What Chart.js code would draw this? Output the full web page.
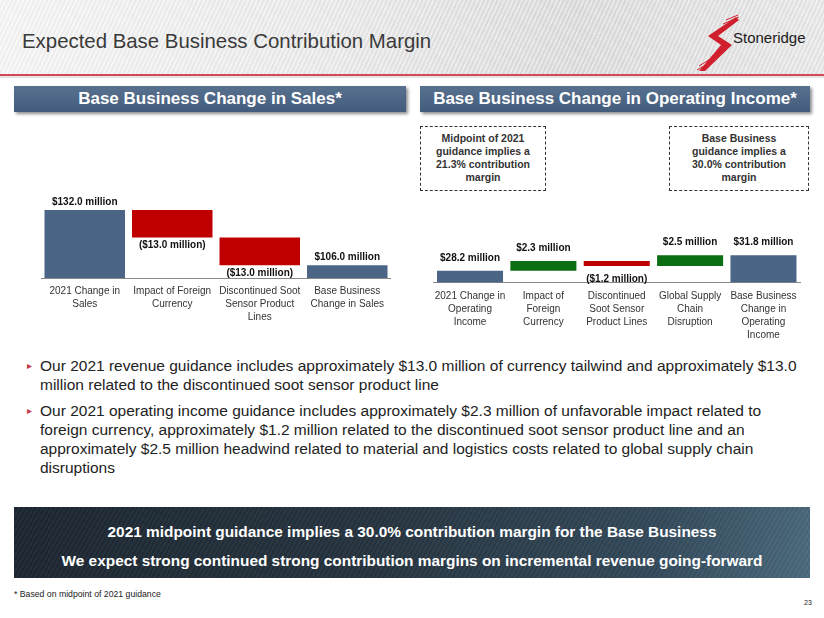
<!DOCTYPE html>
<html>
<head>
<meta charset="utf-8">
<script src="https://cdn.jsdelivr.net/npm/chart.js@4.4.1/dist/chart.umd.min.js"></script>
<style>
  body { margin: 0; width: 824px; height: 618px; position: relative; overflow: hidden; background: #fff;
         font-family: "Liberation Sans", Arial, sans-serif; color: #222; }
  .abs { position: absolute; }
  #header { left: 0; top: 0; width: 824px; height: 74px;
            background: repeating-linear-gradient(115deg, rgba(255,255,255,0.35) 0 2px, rgba(0,0,0,0.02) 2px 4px),
                        linear-gradient(90deg, #f4f4f4 0%, #e9e9e9 40%, #dadada 70%, #e6e6e6 100%); }
  #redline { left: 0; top: 74px; width: 824px; height: 2px; background: #cf4a5b; }
  #greyline { left: 0; top: 76px; width: 824px; height: 2px; background: #e4e4e4; }
  #title { left: 22px; top: 30px; font-size: 20.4px; color: #3a3a3a; white-space: nowrap; }
  #logoText { left: 733px; top: 29px; font-family: "Liberation Sans Narrow", "Liberation Sans", Arial, sans-serif;
              font-size: 15px; color: #1a1a1a; }
  .sect { height: 26px; line-height: 26px; text-align: center; color: #fff; font-weight: bold; font-size: 17px;
          background: linear-gradient(#57718f, #435c7c); box-shadow: 2px 2px 3px rgba(0,0,0,0.45); white-space: nowrap; }
  .note { border: 1px dashed #333; text-align: center; font-weight: bold; font-size: 10.5px; line-height: 13px;
          color: #333; box-sizing: border-box; padding-top: 5px; }
  .chartBox { position: absolute; }
  #bullets { left: 28px; top: 356px; width: 790px; font-size: 15.5px; line-height: 19px; color: #222; }
  #bullets p { margin: 0 0 7px 0; padding-left: 12px; position: relative; white-space: nowrap; }
  #bullets p::before { content: "\25B8"; color: #c8384a; font-size: 10px; position: absolute; left: -1px; top: 0; }
  #banner { left: 14px; top: 507px; width: 796px; height: 71px;
            background: repeating-linear-gradient(120deg, rgba(255,255,255,0.03) 0 2px, rgba(0,0,0,0.03) 2px 4px),
                        linear-gradient(100deg, #1c2631 0%, #26343f 45%, #33495a 80%, #4a6a7c 100%);
            color: #fff; font-weight: bold; font-size: 15.4px; text-align: center; }
  #banner div { position: absolute; left: 0; width: 100%; white-space: nowrap; }
  #foot { left: 14px; top: 589px; font-size: 8.7px; color: #222; }
  #page { left: 804px; top: 599px; font-size: 7px; color: #222; }
</style>
</head>
<body>
<div id="header" class="abs"></div>
<div id="redline" class="abs"></div>
<div id="greyline" class="abs"></div>
<div id="title" class="abs">Expected Base Business Contribution Margin</div>
<svg class="abs" style="left:696px;top:14px" width="44" height="60" viewBox="0 0 44 60">
  <polygon points="40,3 12,22 25,31 3,57 9,57 36,31 22,22 43,6" fill="#d0202e"/>
  <line x1="30" y1="6" x2="42" y2="1" stroke="#d0202e" stroke-width="1"/>
  <line x1="27" y1="10" x2="43" y2="3" stroke="#d0202e" stroke-width="1"/>
  <line x1="3" y1="52" x2="16" y2="44" stroke="#d0202e" stroke-width="1"/>
  <line x1="1" y1="56" x2="13" y2="49" stroke="#d0202e" stroke-width="1"/>
</svg>
<div id="logoText" class="abs">Stoneridge</div>

<div class="abs sect" style="left:14px;top:86px;width:392px;">Base Business Change in Sales*</div>
<div class="abs sect" style="left:420px;top:86px;width:390px;">Base Business Change in Operating Income*</div>

<div class="abs note" style="left:420px;top:126px;width:126px;height:65px;">Midpoint of 2021<br>guidance implies a<br>21.3% contribution<br>margin</div>
<div class="abs note" style="left:669px;top:126px;width:140px;height:65px;">Base Business<br>guidance implies a<br>30.0% contribution<br>margin</div>

<div class="chartBox" style="left:41px;top:195px;width:350px;height:136px;"><canvas id="salesChart"></canvas></div>
<div class="chartBox" style="left:428px;top:220px;width:375px;height:125px;"><canvas id="opIncChart"></canvas></div>

<div id="bullets" class="abs">
  <p>Our 2021 revenue guidance includes approximately $13.0 million of currency tailwind and approximately $13.0<br>million related to the discontinued soot sensor product line</p>
  <p>Our 2021 operating income guidance includes approximately $2.3 million of unfavorable impact related to<br>foreign currency, approximately $1.2 million related to the discontinued soot sensor product line and an<br>approximately $2.5 million headwind related to material and logistics costs related to global supply chain<br>disruptions</p>
</div>

<div id="banner" class="abs">
  <div style="top:16px;">2021 midpoint guidance implies a 30.0% contribution margin for the Base Business</div>
  <div style="top:45px;">We expect strong continued strong contribution margins on incremental revenue going-forward</div>
</div>
<div id="foot" class="abs">* Based on midpoint of 2021 guidance</div>
<div id="page" class="abs">23</div>

<script>
// Sales waterfall
const salesLabels = [
  ['2021 Change in', 'Sales'],
  ['Impact of Foreign', 'Currency'],
  ['Discontinued Soot', 'Sensor Product', 'Lines'],
  ['Base Business', 'Change in Sales']
];
const salesValues = [132.0, -13.0, -13.0, 106.0];
const salesKinds = ['total', 'delta', 'delta', 'total'];

// Operating income waterfall
const opIncLabels = [
  ['2021 Change in', 'Operating', 'Income'],
  ['Impact of', 'Foreign', 'Currency'],
  ['Discontinued', 'Soot Sensor', 'Product Lines'],
  ['Global Supply', 'Chain', 'Disruption'],
  ['Base Business', 'Change in', 'Operating', 'Income']
];
const opIncValues = [28.2, 2.3, -1.2, 2.5, 31.8];
const opIncKinds = ['total', 'delta', 'delta', 'delta', 'total'];

const BLUE = '#4b6587';
const RED = '#c00000';
const GREEN = '#0b6e12';
const FONT = '"Liberation Sans", Arial, sans-serif';

function fmt(v) {
  return v < 0 ? '($' + Math.abs(v).toFixed(1) + ' million)' : '$' + v.toFixed(1) + ' million';
}

function ranges(values, kinds, floor) {
  let run = 0;
  return values.map((v, i) => {
    if (kinds[i] === 'total') { run = v; return [floor, v]; }
    const r = [run, run + v];
    run += v;
    return r;
  });
}

function colors(values, kinds) {
  return values.map((v, i) => kinds[i] === 'total' ? BLUE : (v < 0 ? RED : GREEN));
}

const valueLabels = {
  id: 'valueLabels',
  afterDatasetsDraw(chart, args, opts) {
    const ctx = chart.ctx;
    const meta = chart.getDatasetMeta(0);
    ctx.save();
    ctx.font = 'bold 10px ' + FONT;
    ctx.fillStyle = '#111';
    ctx.textAlign = 'center';
    meta.data.forEach((bar, i) => {
      const v = opts.values[i];
      const top = Math.min(bar.y, bar.base);
      const bottom = Math.max(bar.y, bar.base);
      if (v < 0) {
        ctx.textBaseline = 'top';
        ctx.fillText(fmt(v), bar.x, bottom + opts.gap);
      } else {
        ctx.textBaseline = 'bottom';
        ctx.fillText(fmt(v), bar.x, top - opts.gap);
      }
    });
    ctx.restore();
  }
};

function waterfall(id, labels, values, kinds, yMin, yMax, barPct, gap) {
  return new Chart(document.getElementById(id), {
    type: 'bar',
    data: {
      labels: labels,
      datasets: [{
        data: ranges(values, kinds, yMin),
        backgroundColor: colors(values, kinds),
        borderWidth: 0,
        borderSkipped: false,
        barPercentage: barPct,
        categoryPercentage: 1
      }]
    },
    options: {
      responsive: true,
      maintainAspectRatio: false,
      animation: false,
      layout: { padding: 0 },
      plugins: {
        legend: { display: false },
        tooltip: { enabled: false },
        valueLabels: { values: values, gap: gap }
      },
      scales: {
        x: {
          grid: { display: false, drawTicks: false },
          border: { display: true, color: '#888', width: 1 },
          ticks: {
            autoSkip: false, maxRotation: 0, padding: 7, color: '#333',
            font: { family: FONT, size: 10, lineHeight: 1.3 }
          }
        },
        y: { display: false, min: yMin, max: yMax }
      }
    },
    plugins: [valueLabels]
  });
}

waterfall('salesChart', salesLabels, salesValues, salesKinds, 100, 139, 0.92, 3);
waterfall('opIncChart', opIncLabels, opIncValues, opIncKinds, 25.5, 40, 0.9, 8);
</script>
</body>
</html>
